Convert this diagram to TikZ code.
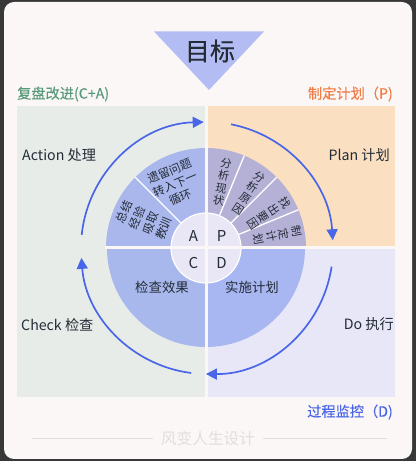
\documentclass[tikz,border=0pt]{standalone}
\usepackage{fontspec}
\setmainfont{Noto Sans CJK SC}
\newfontfamily\medfont[FakeBold=0.3]{Noto Sans CJK SC}
\usetikzlibrary{arrows.meta}
\definecolor{outerbg}{HTML}{383838}
\definecolor{cardbg}{HTML}{FBF7F6}
\definecolor{panelgreen}{HTML}{E8ECE8}
\definecolor{peach}{HTML}{FBDFC1}
\definecolor{lav}{HTML}{E8E7F7}
\definecolor{secA}{HTML}{AAB7EC}
\definecolor{secC}{HTML}{A9B8EC}
\definecolor{secD}{HTML}{A8B6F2}
\definecolor{secP}{HTML}{B5B1D6}
\definecolor{innerc}{HTML}{E9E7F6}
\definecolor{tri}{HTML}{B3BDF4}
\definecolor{darktext}{HTML}{232B36}
\definecolor{greentext}{HTML}{5A9A7C}
\definecolor{orangetext}{HTML}{F07C45}
\definecolor{bluetext}{HTML}{4A66E8}
\definecolor{arrowblue}{HTML}{4A66E8}
\definecolor{footer}{HTML}{E3DEDD}
\begin{document}
\begin{tikzpicture}[x=1pt,y=1pt,
  lbl/.style={inner sep=0pt, font=\fontsize{14.2}{15}\selectfont, text=darktext},
  head/.style={inner sep=0pt, font=\medfont\fontsize{14.2}{15}\selectfont},
  wtext/.style={inner sep=0pt, align=center, text=darktext, font=\fontsize{11.6}{14.2}\selectfont},
  vtext/.style={inner sep=0pt, align=center, text=darktext, font=\fontsize{11.2}{12.8}\selectfont},
  letter/.style={inner sep=0pt, text=darktext, font=\fontsize{15}{15}\selectfont},
  cyclearrow/.style={draw=arrowblue, line width=1.7pt, -{Triangle[length=11pt,width=11pt]}},
  divider/.style={draw=white, line width=1.3pt},
  gap/.style={draw=cardbg, line width=3pt}]
\useasboundingbox (0,0) rectangle (416,461);
\fill[outerbg] (0,0) rectangle (416,461);
\fill[cardbg, rounded corners=10pt] (4,2) rectangle (412,459);

% panels
\fill[panelgreen] (17,64) rectangle (204.5,355);
\fill[peach] (207.5,214.5) rectangle (395,355);
\fill[lav] (207.5,64) rectangle (395,211.5);

% target triangle
\fill[tri] (154,429.5) -- (264,429.5) -- (209,371) -- cycle;
\node[inner sep=0pt, text=darktext, font=\medfont\fontsize{25}{25}\selectfont] (goal) at (210,410) {目标};

% headings
\node[head, anchor=west, text=greentext] (hca) at (17,367) {复盘改进(C+A)};
\node[head, anchor=east, text=orangetext] (hp) at (393,367) {制定计划（P)};
\node[head, anchor=east, text=bluetext] (hd) at (393,49) {过程监控（D)};

% center
\coordinate (O) at (206,213);
\coordinate (R) at (207,213);

% sectors
\fill[secA] (O) -- ++(90:100) arc[start angle=90, end angle=180, radius=100] -- cycle;
\fill[secP] (O) -- ++(0:100) arc[start angle=0, end angle=90, radius=100] -- cycle;
\fill[secC] (O) -- ++(180:99) arc[start angle=180, end angle=270, radius=99] -- cycle;
\fill[secD] (O) -- ++(270:99) arc[start angle=270, end angle=360, radius=99] -- cycle;

% dividers
\draw[divider] (O) -- ++(135:100);
\draw[divider] (O) -- ++(67.5:100);
\draw[divider] (O) -- ++(45:100);
\draw[divider] (O) -- ++(22.5:100);

% inner circle
\filldraw[fill=innerc, draw=white, line width=1.2pt] (O) circle (35);

% gaps
\draw[gap] (206,112) -- (206,314);
\draw[gap] (105,213) -- (307,213);

% letters
\node[letter] (la) at (193.5,225) {A};
\node[letter] (lp) at (221.5,225) {P};
\node[letter] (lc) at (193.5,198) {C};
\node[letter] (ld) at (221.5,198) {D};

% wedge texts
\node[wtext, rotate=22.5] (a1) at ([shift={(116:71)}]O) {遗留问题\\转入下一\\循环};
\node[wtext, rotate=67.5] (a2) at ([shift={(156:68)}]O) {总结\\经验\\吸取\\教训};
\node[vtext, rotate=-11.25] (p1) at ([shift={(76:68)}]O) {分\\析\\现\\状};
\node[vtext, rotate=-33.75] (p2) at ([shift={(52:70)}]O) {分\\析\\原\\因};
\node[vtext, rotate=-56.25] (p3) at ([shift={(29:72)}]O) {找\\出\\要\\因};
\node[vtext, rotate=-78.75] (p4) at ([shift={(10:73)}]O) {制\\定\\计\\划};
\node[lbl, font=\fontsize{13.4}{15}\selectfont] (cq) at (162,174) {检查效果};
\node[lbl, font=\fontsize{13.4}{15}\selectfont] (dq) at (252,174) {实施计划};

% quadrant labels
\node[lbl, anchor=west] (act) at (22,306) {Action 处理};
\node[lbl, anchor=east] (plan) at (390,306) {Plan 计划};
\node[lbl, anchor=west] (chk) at (21,136) {Check 检查};
\node[lbl, anchor=east] (do) at (394,137) {Do 执行};

% cycle arrows
\draw[cyclearrow] (R) ++(174:126) arc[start angle=174, end angle=91.5, radius=126];
\draw[cyclearrow] (R) ++(79:126) arc[start angle=79, end angle=3.5, radius=126];
\draw[cyclearrow] (R) ++(-8.5:126) arc[start angle=-8.5, end angle=-90.5, radius=126];
\draw[cyclearrow] (R) ++(262.8:126) arc[start angle=262.8, end angle=184.5, radius=126];

% footer
\node[inner sep=0pt, text=footer, font=\fontsize{15.7}{16}\selectfont] (foot) at (208,23) {风变人生设计};
\coordinate (fl) at (32,23);
\coordinate (fr) at (387,23);
\draw[footer, line width=0.8pt] (fl) -- ([xshift=-8pt]foot.west);
\draw[footer, line width=0.8pt] ([xshift=8pt]foot.east) -- (fr);
\end{tikzpicture}
\end{document}
